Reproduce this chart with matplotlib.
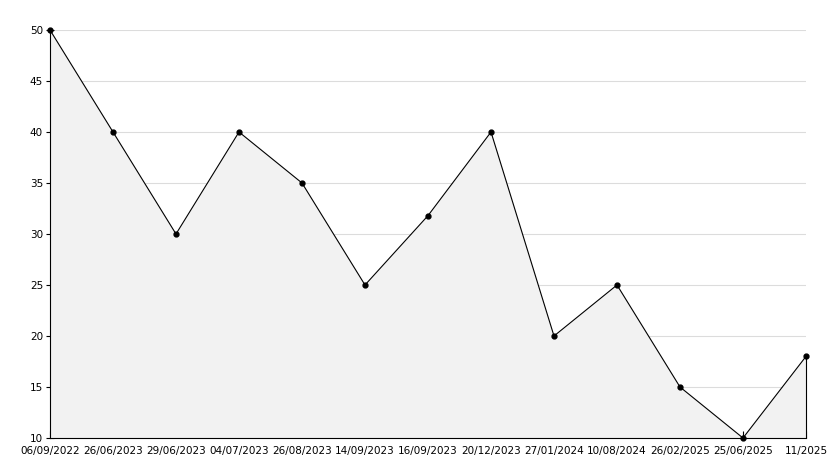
import numpy as np
import matplotlib.pyplot as plt
from matplotlib.ticker import MultipleLocator

# =========================
# DATA
# =========================

dates = ["06/09/2022", "26/06/2023", "29/06/2023", "04/07/2023", "26/08/2023",
         "14/09/2023", "16/09/2023", "20/12/2023", "27/01/2024", "10/08/2024",
         "26/02/2025", "25/06/2025", "11/2025"]
values = [50, 40, 30, 40, 35, 25, 31.8, 40, 20, 25, 15, 10, 18]

# =========================
# PLOT
# =========================

plt.rcParams["font.family"] = ["DejaVu Sans"]

fig = plt.figure(figsize=(8.34, 4.68), dpi=100)
ax = fig.add_axes([50 / 834, 30 / 468, 756 / 834, 408 / 468])

x = np.arange(len(dates))

ax.fill_between(x, values, 10, color="#f2f2f2", linewidth=0, zorder=2)
ax.vlines(x[-1], 10, values[-1], color="black", linewidth=0.8, zorder=3, clip_on=False)
ax.plot(x, values, color="black", linewidth=0.8, marker="o", markersize=3.5,
        zorder=3, clip_on=False)

ax.set_xlim(0, len(dates) - 1)
ax.set_ylim(10, 50)

ax.set_xticks(x)
ax.set_xticklabels(dates, fontsize=7.5)
ax.yaxis.set_major_locator(MultipleLocator(5))
ax.yaxis.set_minor_locator(MultipleLocator(1))
ax.tick_params(axis="y", which="major", direction="inout", length=6, width=0.8, labelsize=7.5, pad=2)
ax.tick_params(axis="y", which="minor", direction="in", length=3, width=0.8)
ax.tick_params(axis="x", which="major", direction="in", length=5, width=0.8, pad=6)

ax.grid(axis="y", color="#dcdcdc", linewidth=0.8, zorder=0)
ax.set_axisbelow(True)

ax.spines["top"].set_visible(False)
ax.spines["right"].set_visible(False)
ax.spines["left"].set_linewidth(0.8)
ax.spines["bottom"].set_linewidth(0.8)

fig.savefig("out.png", dpi=100)
